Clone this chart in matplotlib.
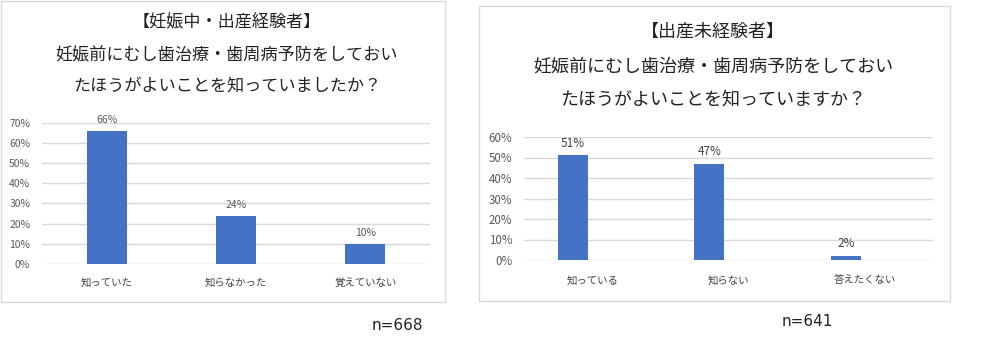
import matplotlib
matplotlib.use("Agg")
import matplotlib.pyplot as plt
from matplotlib.patches import Rectangle
from matplotlib.ticker import PercentFormatter

plt.rcParams['font.family'] = ['Noto Sans CJK JP', 'DejaVu Sans']

# data
cats_exp = ['知っていた', '知らなかった', '覚えていない']
vals_exp = [0.66, 0.24, 0.10]
title_exp = ['【妊娠中・出産経験者】', '妊娠前にむし歯治療・歯周病予防をしておい', 'たほうがよいことを知っていましたか？']
n_exp = 'n=668'

cats_new = ['知っている', '知らない', '答えたくない']
vals_new = [0.51, 0.47, 0.02]
title_new = ['【出産未経験者】', '妊娠前にむし歯治療・歯周病予防をしておい', 'たほうがよいことを知っていますか？']
n_new = 'n=641'

W, H = 1000, 357
fig = plt.figure(figsize=(W / 100, H / 100), dpi=100)
fig.patch.set_facecolor('white')


def px(x0, y0, x1, y1):
    # pixel box -> figure fraction [left, bottom, width, height]
    return [x0 / W, 1 - y1 / H, (x1 - x0) / W, (y1 - y0) / H]


def panel(frame, box, cats, vals, ymax, bw, shift, titles, tx, ty, tsize,
          lab_color, lab_size, ysize, pad):
    fig.add_artist(Rectangle((frame[0] / W, 1 - frame[3] / H),
                             (frame[2] - frame[0]) / W, (frame[3] - frame[1]) / H,
                             transform=fig.transFigure, fill=False,
                             edgecolor='#d9d9d9', linewidth=1))
    for t, y in zip(titles, ty):
        fig.text(tx / W, 1 - y / H, t, ha='center', va='center',
                 fontsize=tsize, color='#222222')
    ax = fig.add_axes(px(*box))
    x = list(range(len(cats)))
    # bars sit a bit left of the category centre on the right chart
    bars = ax.bar([i + shift for i in x], vals, width=bw, color='#4472c4', zorder=3)
    ax.set_xlim(-0.5, len(cats) - 0.5)
    ax.set_ylim(0, ymax)
    ax.set_yticks([i / 10 for i in range(int(round(ymax * 10)) + 1)])
    ax.yaxis.set_major_formatter(PercentFormatter(1.0, decimals=0))
    ax.set_xticks(x)
    ax.set_xticklabels(cats)
    ax.grid(axis='y', color='#d9d9d9', linewidth=1, zorder=0)
    for s in ax.spines.values():
        s.set_visible(False)
    ax.tick_params(axis='y', length=0, pad=8.5, labelsize=ysize, labelcolor='#595959')
    ax.tick_params(axis='x', length=0, pad=pad, labelsize=7.5, labelcolor='#404040')
    for b, v in zip(bars, vals):
        ax.annotate(f'{v * 100:.0f}%', (b.get_x() + b.get_width() / 2, v),
                    xytext=(0, 4), textcoords='offset points', ha='center',
                    va='bottom', fontsize=lab_size, color=lab_color)
    return ax


panel((0.5, 0.5, 445, 302), (42, 122.7, 430, 264), cats_exp, vals_exp, 0.7, 0.31, 0.0,
      title_exp, 227, (22, 55, 86), 12.3, '#595959', 7.5, 7.5, 10)
panel((479, 6, 950, 301), (524, 137, 933, 260), cats_new, vals_new, 0.6, 0.22, -0.14,
      title_new, 713, (32, 67, 100), 13, '#404040', 8.5, 8.3, 11)

fig.text(397 / W, 1 - 325 / H, n_exp, ha='center', va='center', fontsize=11,
         color='#222222', family=['DejaVu Sans'])
fig.text(807 / W, 1 - 321 / H, n_new, ha='center', va='center', fontsize=11,
         color='#222222', family=['DejaVu Sans'])

fig.savefig('out.png', dpi=100, facecolor='white')
